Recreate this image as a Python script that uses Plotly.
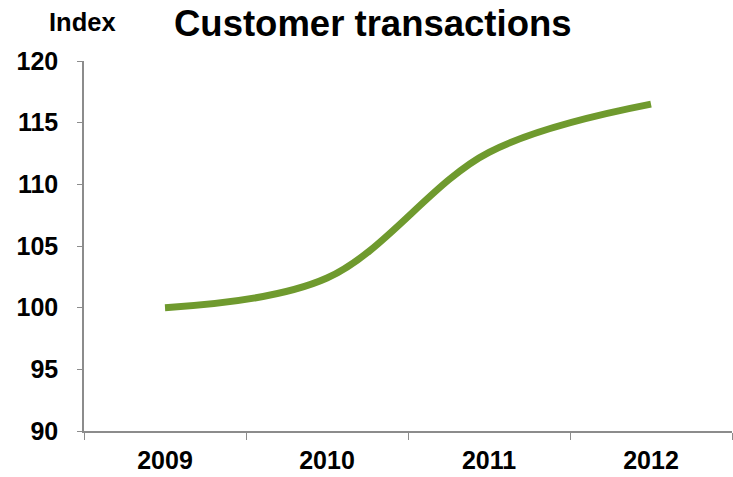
import plotly.graph_objects as go

years = ["2009", "2010", "2011", "2012"]
index_values = [100.0, 102.4, 112.6, 116.5]
y_ticks = [90, 95, 100, 105, 110, 115, 120]

fig = go.Figure()
fig.add_trace(go.Scatter(
    x=years, y=index_values, mode="lines",
    line=dict(color="#6f9a2e", width=7, shape="spline", smoothing=1.0),
    hoverinfo="skip", showlegend=False,
))

font_family = "Liberation Sans, Arial, sans-serif"
fig.update_layout(
    width=733, height=477,
    margin=dict(l=84, r=1, t=61, b=46),
    paper_bgcolor="white", plot_bgcolor="white",
    font=dict(family=font_family, color="black"),
    xaxis=dict(
        type="category", range=[-0.5, 3.5],
        showline=True, linecolor="#8c8c8c", linewidth=1.5,
        ticks="outside", tickson="boundaries", ticklen=7, tickcolor="#8c8c8c",
        tickfont=dict(size=25, family=font_family, color="black", weight="bold"),
        ticklabelstandoff=6,
        showgrid=False, zeroline=False,
    ),
    yaxis=dict(
        range=[90, 120], tickvals=y_ticks, ticktext=[str(v) for v in y_ticks],
        showline=True, linecolor="#8c8c8c", linewidth=1.5,
        ticks="outside", ticklen=5, tickcolor="#8c8c8c",
        tickfont=dict(size=25, family=font_family, color="black", weight="bold"),
        ticklabelstandoff=14,
        showgrid=False, zeroline=False,
    ),
    annotations=[
        dict(text="<b>Customer transactions</b>", xref="paper", yref="paper",
             x=(373 - 84) / 648, y=1 + (61 - 24) / 370, xanchor="center", yanchor="middle",
             showarrow=False,
             font=dict(size=36.5, family=font_family, color="black")),
        dict(text="<b>Index</b>", xref="paper", yref="paper",
             x=(82 - 84) / 648, y=1 + (61 - 22) / 370, xanchor="center", yanchor="middle",
             showarrow=False,
             font=dict(size=25.5, family=font_family, color="black")),
    ],
)

fig.write_html("out.html", config={"displayModeBar": False},
               post_script="document.body.style.margin='0px';document.body.style.overflow='hidden';")
